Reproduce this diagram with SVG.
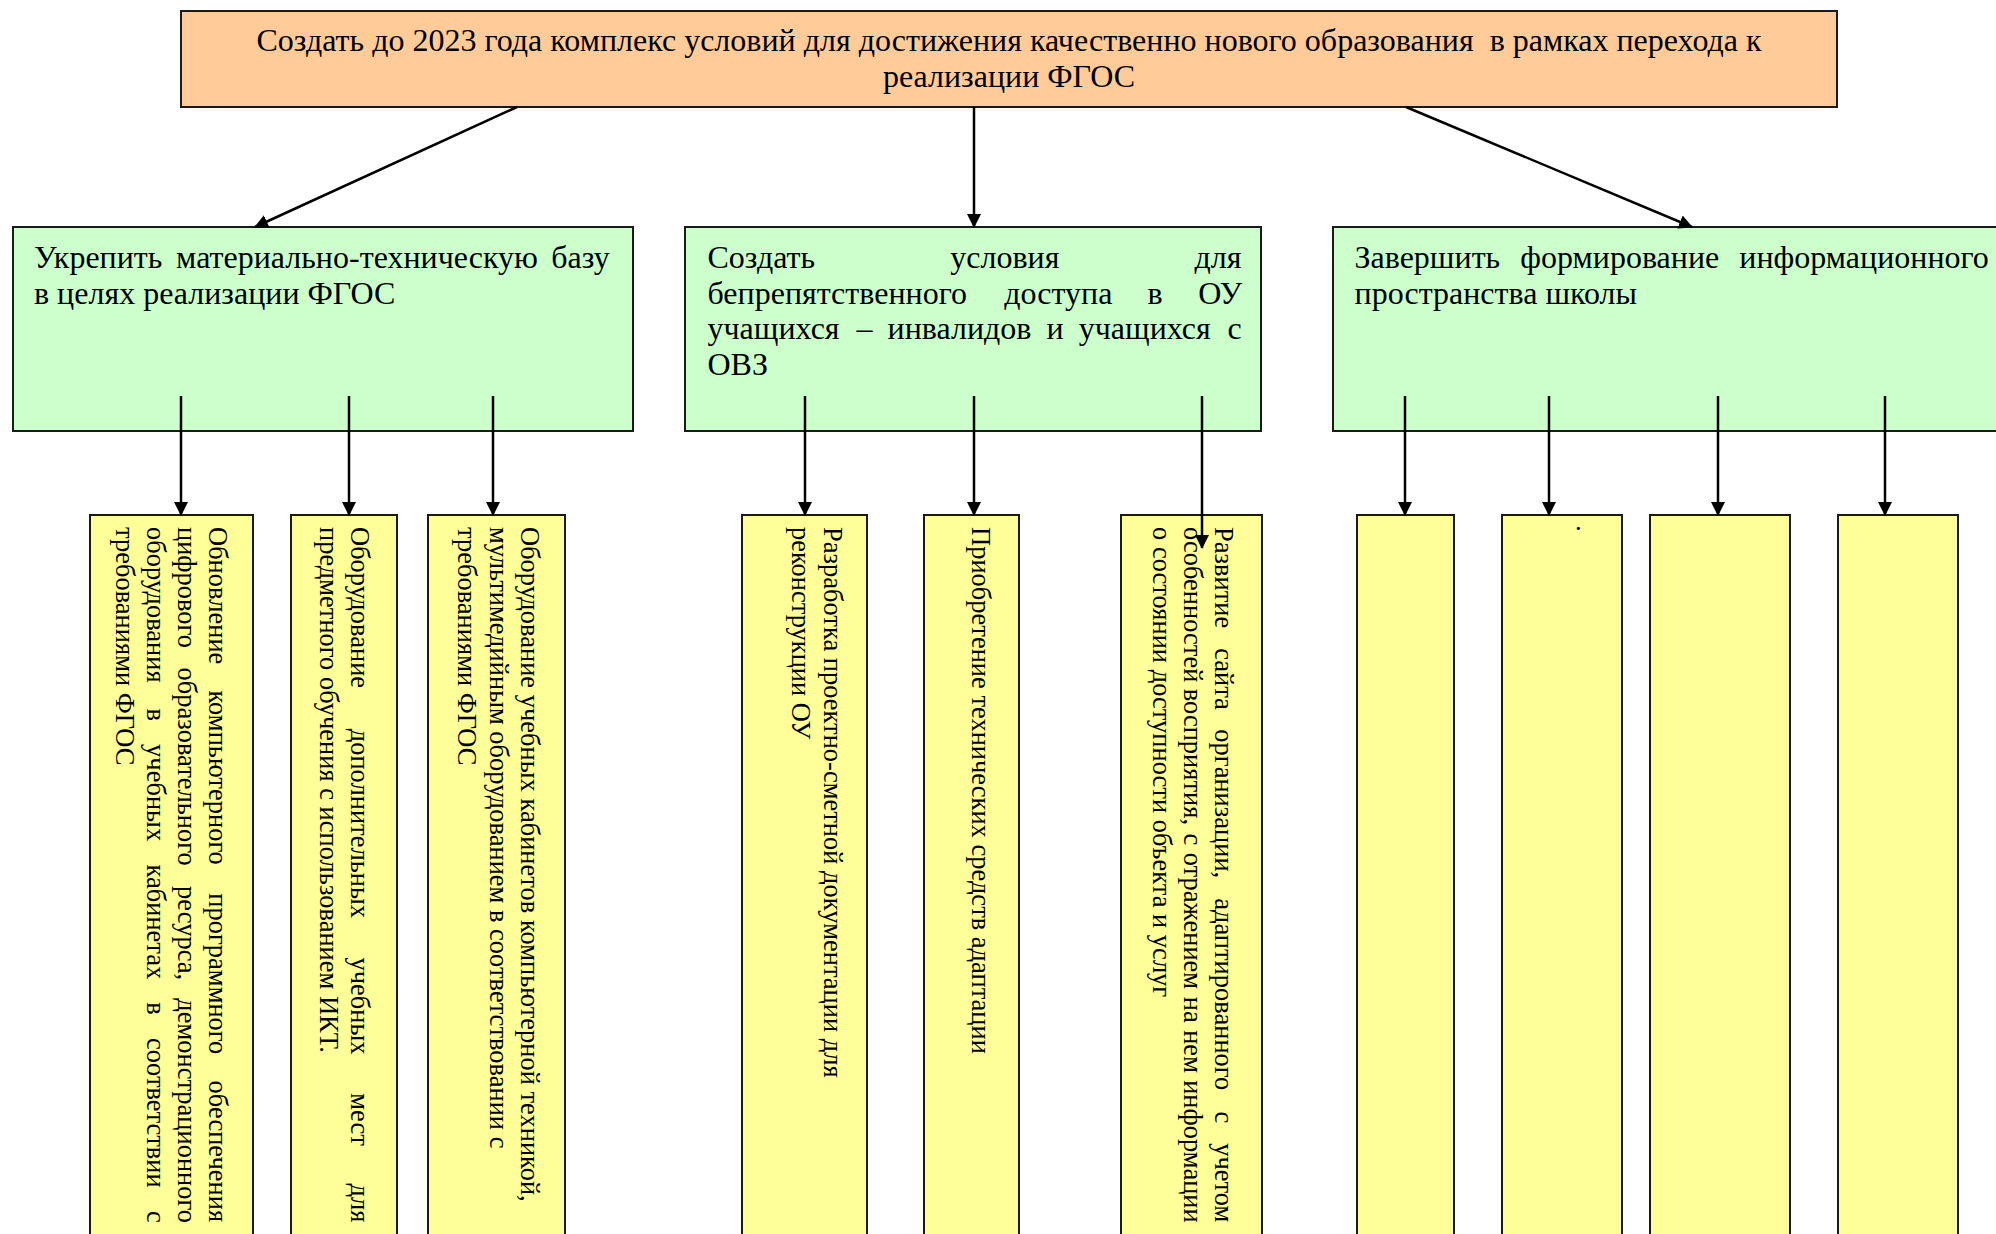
<svg xmlns="http://www.w3.org/2000/svg" width="1996" height="1234" viewBox="0 0 1996 1234">
<style>
.box{stroke:#1a1a1a;stroke-width:2}
.top{fill:#FFCC99}
.green{fill:#CCFFCC}
.yellow{fill:#FFFF99}
text{font-family:"Liberation Serif","Times New Roman",serif;fill:#000}
.h{font-size:32px}
.v{font-size:26.5px}
.conn line{stroke:#000;stroke-width:2.5;fill:none;marker-end:url(#ah)}
</style>
<defs>
<marker id="ah" markerUnits="userSpaceOnUse" markerWidth="14" markerHeight="14" viewBox="0 0 14 14" refX="13" refY="7" orient="auto">
<path d="M0,0 L14,7 L0,14 z" fill="#000"/>
</marker>
</defs>
<rect width="1996" height="1234" fill="#fff"/>

<g id="node-goal">
<rect class="box top" x="181" y="11" width="1656" height="96"/>
<text class="h" x="1009" y="50.7" text-anchor="middle" xml:space="preserve">Создать до 2023 года комплекс условий для достижения качественно нового образования  в рамках перехода к</text>
<text class="h" x="1009" y="86.5" text-anchor="middle">реализации ФГОС</text>
</g>

<g id="node-task1">
<rect class="box green" x="13" y="227" width="620" height="204"/>
<text class="h" y="268"><tspan x="34">Укрепить</tspan> <tspan x="176.1">материально-техническую</tspan> <tspan x="551.2">базу</tspan></text>
<text class="h" x="34" y="304">в целях реализации ФГОС</text>
</g>

<g id="node-task2">
<rect class="box green" x="685" y="227" width="576" height="204"/>
<text class="h" y="268"><tspan x="707.5">Создать</tspan> <tspan x="950.3">условия</tspan> <tspan x="1194.4">для</tspan></text>
<text class="h" y="303.5"><tspan x="707.5">бепрепятственного</tspan> <tspan x="1004.2">доступа</tspan> <tspan x="1147.4">в</tspan> <tspan x="1198.2">ОУ</tspan></text>
<text class="h" y="339"><tspan x="707.5">учащихся</tspan> <tspan x="856.4">–</tspan> <tspan x="887.5">инвалидов</tspan> <tspan x="1046.5">и</tspan> <tspan x="1078.7">учащихся</tspan> <tspan x="1227.6">с</tspan></text>
<text class="h" x="707.5" y="374.5">ОВЗ</text>
</g>

<g id="node-task3">
<rect class="box green" x="1333" y="227" width="680" height="204"/>
<text class="h" y="268"><tspan x="1354.5">Завершить</tspan> <tspan x="1520.3">формирование</tspan> <tspan x="1739.3">информационного</tspan></text>
<text class="h" x="1354.5" y="304">пространства школы</text>
</g>

<g id="node-a1">
<rect class="box yellow" x="90" y="515" width="163" height="730"/>
<text class="v" transform="rotate(90)" y="-209"><tspan x="527">Обновление</tspan> <tspan x="690.6">компьютерного</tspan> <tspan x="893.3">программного</tspan> <tspan x="1080.6">обеспечения</tspan></text>
<text class="v" transform="rotate(90)" y="-178"><tspan x="527">цифрового</tspan> <tspan x="667.6">образовательного</tspan> <tspan x="886.1">ресурса,</tspan> <tspan x="998.2">демонстрационного</tspan></text>
<text class="v" transform="rotate(90)" y="-147"><tspan x="527">оборудования</tspan> <tspan x="708.4">в</tspan> <tspan x="744.1">учебных</tspan> <tspan x="864.5">кабинетах</tspan> <tspan x="1002.3">в</tspan> <tspan x="1038">соответствии</tspan> <tspan x="1211.1">с</tspan></text>
<text class="v" transform="rotate(90)" x="527" y="-116">требованиями ФГОС</text>
</g>

<g id="node-a2">
<rect class="box yellow" x="291" y="515" width="106" height="730"/>
<text class="v" transform="rotate(90)" y="-351"><tspan x="527">Оборудование</tspan> <tspan x="728.7">дополнительных</tspan> <tspan x="957.4">учебных</tspan> <tspan x="1093.3">мест</tspan> <tspan x="1183.6">для</tspan></text>
<text class="v" transform="rotate(90)" x="527" y="-320">предметного обучения с использованием ИКТ.</text>
</g>

<g id="node-a3">
<rect class="box yellow" x="428" y="515" width="137" height="730"/>
<text class="v" transform="rotate(90)" x="527" y="-521">Оборудование учебных кабинетов компьютерной техникой,</text>
<text class="v" transform="rotate(90)" x="527" y="-489.5">мультимедийным оборудованием в соответствовании с</text>
<text class="v" transform="rotate(90)" x="527" y="-458">требованиями ФГОС</text>
</g>

<g id="node-b1">
<rect class="box yellow" x="742" y="515" width="125" height="730"/>
<text class="v" transform="rotate(90)" x="527" y="-824">Разработка проектно-сметной документации для</text>
<text class="v" transform="rotate(90)" x="527" y="-792">реконструкции ОУ</text>
</g>

<g id="node-b2">
<rect class="box yellow" x="924" y="515" width="95" height="730"/>
<text class="v" transform="rotate(90)" x="527" y="-972">Приобретение технических средств адаптации</text>
</g>

<g id="node-b3">
<rect class="box yellow" x="1121" y="515" width="141" height="730"/>
<text class="v" transform="rotate(90)" y="-1215"><tspan x="527">Развитие</tspan> <tspan x="648.2">сайта</tspan> <tspan x="729.3">организации,</tspan> <tspan x="898.2">адаптированного</tspan> <tspan x="1111.4">с</tspan> <tspan x="1143.2">учетом</tspan></text>
<text class="v" transform="rotate(90)" y="-1184"><tspan x="527">особенностей</tspan> <tspan x="688.7">восприятия,</tspan> <tspan x="833.4">с</tspan> <tspan x="852.7">отражением</tspan> <tspan x="996.8">на</tspan> <tspan x="1030.2">нем</tspan> <tspan x="1080.2">информации</tspan></text>
<text class="v" transform="rotate(90)" x="527" y="-1153">о состоянии доступности объекта и услуг</text>
</g>

<g id="node-c1">
<rect class="box yellow" x="1357" y="515" width="97" height="730"/>
</g>
<g id="node-c2">
<rect class="box yellow" x="1502" y="515" width="120" height="730"/>
<text class="v" x="1575" y="530">.</text>
</g>
<g id="node-c3">
<rect class="box yellow" x="1650" y="515" width="140" height="730"/>
</g>
<g id="node-c4">
<rect class="box yellow" x="1838" y="515" width="120" height="730"/>
</g>

<g id="connectors" class="conn">
<line x1="517" y1="107" x2="255" y2="227"/>
<line x1="974" y1="107" x2="974" y2="227"/>
<line x1="1406" y1="107" x2="1692" y2="227"/>
<line x1="181" y1="396" x2="181" y2="515"/>
<line x1="349" y1="396" x2="349" y2="515"/>
<line x1="493" y1="396" x2="493" y2="515"/>
<line x1="805" y1="396" x2="805" y2="515"/>
<line x1="974" y1="396" x2="974" y2="515"/>
<line x1="1202" y1="396" x2="1202" y2="548"/>
<line x1="1405" y1="396" x2="1405" y2="515"/>
<line x1="1549" y1="396" x2="1549" y2="515"/>
<line x1="1718" y1="396" x2="1718" y2="515"/>
<line x1="1885" y1="396" x2="1885" y2="515"/>
</g>
</svg>
